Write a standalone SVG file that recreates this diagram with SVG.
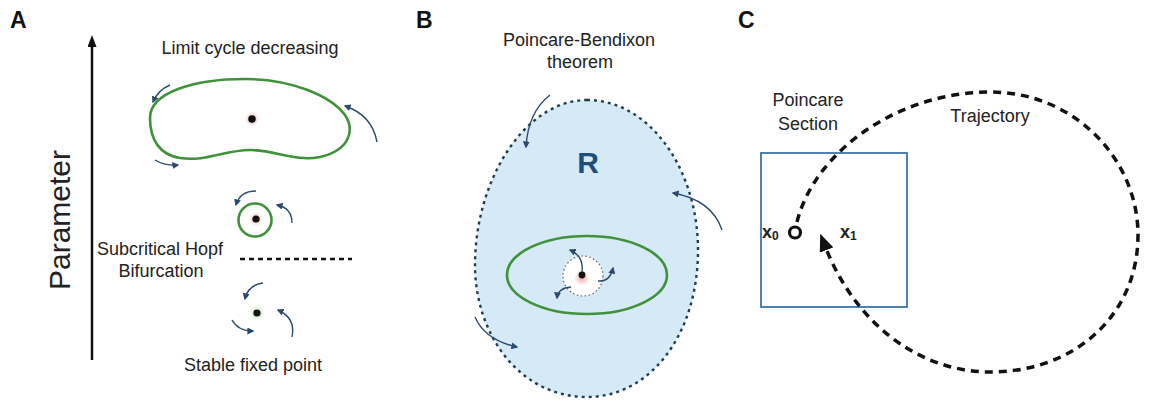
<svg xmlns="http://www.w3.org/2000/svg" width="1152" height="405" viewBox="0 0 1152 405">
<defs>
<style>
text{font-family:"Liberation Sans",Arial,sans-serif;fill:#222}
.lbl{font-size:18px}
.panel{font-size:23px;font-weight:bold;fill:#111}
.flow{fill:none;stroke:#2c4a6e;stroke-width:1.4;marker-end:url(#ah)}
.cyc{fill:none;stroke:#3f913a;stroke-width:2.6}
</style>
<marker id="ah" viewBox="0 0 10 10" refX="8" refY="5" markerWidth="5" markerHeight="5" orient="auto"><path d="M0,0 L10,5 L0,10 z" fill="#2c4a6e"/></marker>
<marker id="ahk" viewBox="0 0 12 10" refX="3" refY="5" markerWidth="5" markerHeight="4.2" orient="auto"><path d="M0,0 L12,5 L0,10 z" fill="#111"/></marker>
<marker id="ahv" viewBox="0 0 12 9" refX="2" refY="4.5" markerWidth="4.8" markerHeight="3.6" orient="auto"><path d="M0,0 L12,4.5 L0,9 z" fill="#111"/></marker>
<radialGradient id="pink"><stop offset="0" stop-color="#f2a7a7"/><stop offset="1" stop-color="#f2a7a7" stop-opacity="0"/></radialGradient>
<radialGradient id="grn"><stop offset="0" stop-color="#bfe3b0"/><stop offset="1" stop-color="#bfe3b0" stop-opacity="0"/></radialGradient>
</defs>
<rect width="1152" height="405" fill="#fff"/>

<!-- Panel A -->
<g id="panel-A-label"><text class="panel" x="10" y="28">A</text></g>
<g id="parameter-axis">
<line x1="92" y1="360" x2="92" y2="45" stroke="#111" stroke-width="2.5" marker-end="url(#ahv)"/>
<text x="70" y="220" font-size="30" text-anchor="middle" transform="rotate(-90 70 220)">Parameter</text>
</g>
<g id="limit-cycle-large">
<text class="lbl" x="250" y="54" text-anchor="middle">Limit cycle decreasing</text>
<path class="cyc" d="M150,118 C150,92 195,79 245,79 C290,79 330,95 345,115 C355,130 350,150 320,157 C295,162 275,150 250,150 C225,150 205,162 180,158 C160,155 150,140 150,118 Z"/>
<circle cx="252" cy="119" r="7" fill="url(#pink)"/>
<circle cx="252" cy="119" r="3.8" fill="#111"/>
</g>
<g id="limit-cycle-small">
<circle class="cyc" cx="255" cy="220" r="16.5" stroke-width="2.2"/>
<circle cx="256" cy="219" r="7" fill="url(#pink)"/>
<circle cx="256" cy="219" r="3.6" fill="#111"/>
</g>
<g id="hopf-bifurcation">
<text class="lbl" x="160" y="255" text-anchor="middle">Subcritical Hopf</text>
<text class="lbl" x="161" y="277" text-anchor="middle">Bifurcation</text>
<line x1="240" y1="259" x2="352" y2="259" stroke="#111" stroke-width="2.5" stroke-dasharray="5 4"/>
</g>
<g id="stable-fixed-point">
<circle cx="257" cy="313" r="8" fill="url(#grn)"/>
<circle cx="257" cy="313" r="3.6" fill="#111"/>
<text class="lbl" x="253" y="371" text-anchor="middle">Stable fixed point</text>
</g>

<!-- Panel B -->
<g id="panel-B-label"><text class="panel" x="416" y="28">B</text></g>
<g id="region-R">
<text class="lbl" x="579" y="46" text-anchor="middle">Poincare-Bendixon</text>
<text class="lbl" x="580" y="68" text-anchor="middle">theorem</text>
<path d="M587,100 C650,100 698,170 698,250 C698,335 650,397 587,397 C520,397 475,335 475,265 C475,180 525,100 587,100 Z" fill="#d6e9f7" stroke="#1f3f4f" stroke-width="2.4" stroke-dasharray="3 4"/>
<text x="588" y="173" font-size="30" font-weight="bold" text-anchor="middle" style="fill:#1f4e79">R</text>
</g>
<g id="limit-cycle-B">
<ellipse class="cyc" cx="587" cy="275" rx="80" ry="39" stroke-width="4.5" stroke="#3a9638"/>
<circle cx="583" cy="276" r="20" fill="#fff" stroke="#666" stroke-width="1.2" stroke-dasharray="1.5 2.5"/>
<circle cx="582" cy="278" r="8" fill="url(#pink)"/>
<circle cx="582" cy="275" r="3.4" fill="#111"/>
</g>

<!-- Panel C -->
<g id="panel-C-label"><text class="panel" x="738" y="28">C</text></g>
<g id="poincare-section">
<text class="lbl" x="808" y="106" text-anchor="middle">Poincare</text>
<text class="lbl" x="808" y="130" text-anchor="middle">Section</text>
<rect x="761" y="153" width="146" height="154" fill="none" stroke="#3f74a8" stroke-width="1.8"/>
</g>
<g id="trajectory-label"><text class="lbl" x="990" y="122" text-anchor="middle">Trajectory</text></g>
<g id="x0">
<circle cx="795" cy="232.5" r="5.5" fill="none" stroke="#111" stroke-width="3.2"/>
<text x="762" y="238" font-size="18" font-weight="bold">x<tspan font-size="12" dy="2">0</tspan></text>
</g>
<g id="x1">
<text x="840" y="238" font-size="18" font-weight="bold">x<tspan font-size="12" dy="2">1</tspan></text>
</g>

<g id="connectors">
<path class="flow" d="M170,85 Q158,90 153,102"/>
<path class="flow" d="M377,142 Q372,115 345,106"/>
<path class="flow" d="M155,160 Q165,166 178,165"/>
<path class="flow" d="M256,191 Q240,191 236,205"/>
<path class="flow" d="M292,223 Q292,208 277,205"/>
<path class="flow" d="M263,283 Q248,285 245,299"/>
<path class="flow" d="M232,320 Q238,331 253,331"/>
<path class="flow" d="M292,337 Q296,318 278,310"/>
<path class="flow" d="M550,95 Q528,112 526,147"/>
<path class="flow" d="M722,230 Q712,200 673,193"/>
<path class="flow" d="M475,317 Q485,340 517,347"/>
<path class="flow" d="M582,272 Q584,256 570,250"/>
<path class="flow" d="M598,281 Q610,282 613,268"/>
<path class="flow" d="M571,287 Q558,288 557,298"/>
<path d="M797,222 C815,150 900,92 990,92 C1075,92 1138,160 1138,235 C1138,315 1075,372 990,372 C925,372 858,330 825,246" fill="none" stroke="#111" stroke-width="3.5" stroke-dasharray="8 6" marker-end="url(#ahk)"/>
</g>
</svg>
